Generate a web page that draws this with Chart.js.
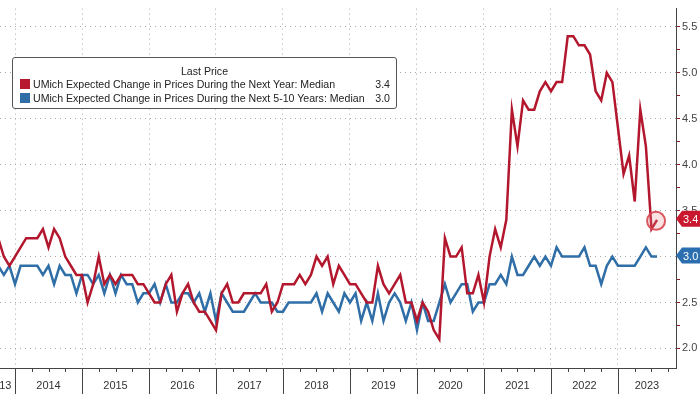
<!DOCTYPE html>
<html lang="en">
<head>
<meta charset="UTF-8">
<title>UMich inflation expectations</title>
<script src="https://cdn.jsdelivr.net/npm/chart.js@4.4.0/dist/chart.umd.min.js"></script>
<style>
  body { margin: 0; background: #fff; }
  #wrap { position: relative; width: 700px; height: 394px; overflow: hidden; }
  #legend {
    position: absolute; left: 12px; top: 57px; width: 383px; height: 50px;
    background: #fff; border: 1px solid #555; border-radius: 3px;
    font: 10.6px "Liberation Sans", Arial, sans-serif; color: #222;
  }
  #legend .title { position: absolute; left: 0; right: 0; top: 7px; text-align: center; }
  #legend .row { position: absolute; left: 0; right: 0; height: 13px; line-height: 13px; }
  #legend .sw { position: absolute; left: 7px; top: 1px; width: 10px; height: 10px; }
  #legend .name { position: absolute; left: 20px; }
  #legend .val { position: absolute; right: 6px; }
</style>
</head>
<body>
<div id="wrap">
  <canvas id="chart" width="700" height="394"></canvas>
  <div id="legend">
    <div class="title">Last Price</div>
    <div class="row" style="top:20px"><span class="sw" style="background:#b8182f"></span><span class="name">UMich Expected Change in Prices During the Next Year: Median</span><span class="val">3.4</span></div>
    <div class="row" style="top:34px"><span class="sw" style="background:#2f6ea6"></span><span class="name">UMich Expected Change in Prices During the Next 5-10 Years: Median</span><span class="val">3.0</span></div>
  </div>
</div>

<script>
  // monthly readings, first one is Sep 2013 (plotted at month end)
  const startYear = 2013;
  const startMonth = 9;

  const years = ['2013', '2014', '2015', '2016', '2017', '2018', '2019', '2020', '2021', '2022', '2023'];
  const yLabels = ['2.0', '2.5', '3.0', '3.5', '4.0', '4.5', '5.0', '5.5'];

  const nextYear = [
    3.2, 3.0, 2.9, 3.0,
    3.1, 3.2, 3.2, 3.2, 3.3, 3.1, 3.3, 3.2, 3.0, 2.9, 2.8, 2.8,
    2.5, 2.7, 3.0, 2.7, 2.8, 2.7, 2.8, 2.8, 2.8, 2.7, 2.7, 2.6,
    2.5, 2.5, 2.7, 2.8, 2.4, 2.6, 2.7, 2.5, 2.4, 2.4, 2.3, 2.2,
    2.6, 2.7, 2.5, 2.5, 2.6, 2.6, 2.6, 2.6, 2.7, 2.4, 2.5, 2.7,
    2.7, 2.7, 2.8, 2.7, 2.8, 3.0, 2.9, 3.0, 2.7, 2.9, 2.8, 2.7,
    2.7, 2.6, 2.5, 2.5, 2.9, 2.7, 2.6, 2.7, 2.8, 2.5, 2.5, 2.3,
    2.5, 2.4, 2.2, 2.1, 3.2, 3.0, 3.0, 3.1, 2.6, 2.6, 2.8, 2.5,
    3.0, 3.3, 3.1, 3.4, 4.6, 4.2, 4.7, 4.6, 4.6, 4.8, 4.9, 4.8,
    4.9, 4.9, 5.4, 5.4, 5.3, 5.3, 5.2, 4.8, 4.7, 5.0, 4.9, 4.4,
    3.9, 4.1, 3.6, 4.6, 4.2, 3.3, 3.4
  ];

  const fiveToTen = [
    2.9, 2.8, 2.9, 2.7,
    2.9, 2.9, 2.9, 2.9, 2.8, 2.9, 2.7, 2.9, 2.8, 2.8, 2.6, 2.8,
    2.8, 2.7, 2.8, 2.6, 2.8, 2.6, 2.8, 2.7, 2.7, 2.5, 2.6, 2.6,
    2.7, 2.5, 2.7, 2.5, 2.5, 2.6, 2.6, 2.5, 2.6, 2.4, 2.6, 2.3,
    2.6, 2.5, 2.4, 2.4, 2.4, 2.5, 2.6, 2.5, 2.5, 2.5, 2.4, 2.4,
    2.5, 2.5, 2.5, 2.5, 2.5, 2.6, 2.4, 2.6, 2.5, 2.4, 2.6, 2.5,
    2.6, 2.3, 2.5, 2.3, 2.6, 2.3, 2.5, 2.6, 2.5, 2.3, 2.5, 2.2,
    2.5, 2.3, 2.3, 2.5, 2.7, 2.5, 2.6, 2.7, 2.7, 2.4, 2.5, 2.5,
    2.7, 2.7, 2.8, 2.7, 3.0, 2.8, 2.8, 2.9, 3.0, 2.9, 3.0, 2.9,
    3.1, 3.0, 3.0, 3.0, 3.0, 3.1, 2.9, 2.9, 2.7, 2.9, 3.0, 2.9,
    2.9, 2.9, 2.9, 3.0, 3.1, 3.0, 3.0
  ];

  const RED = '#b3172e';
  const BLUE = '#2f6ea6';
  const GRID = '#a8a8a8';
  const FONT = '"Liberation Sans", Arial, sans-serif';

  const toPoints = arr => arr.map((v, i) => ({ x: startYear + (startMonth + i) / 12, y: v }));
  const isMajor = v => Math.abs(v * 2 - Math.round(v * 2)) < 1e-6;

  // bottom axis: year separators, quarter ticks, year labels
  const timeAxis = {
    id: 'timeAxis',
    afterDraw(chart) {
      const { ctx, chartArea: area } = chart;
      const sx = chart.scales.x;
      ctx.save();
      ctx.strokeStyle = '#444';
      ctx.lineWidth = 1;
      for (let y = +years[0]; y <= +years[years.length - 1] + 1; y++) {
        for (let q = 0; q < 4; q++) {
          const v = y + q / 4;
          if (v < sx.min || v > sx.max) continue;
          const px = Math.round(sx.getPixelForValue(v)) + 0.5;
          ctx.beginPath();
          ctx.moveTo(px, area.bottom);
          ctx.lineTo(px, q === 0 ? chart.height : area.bottom + 4);
          ctx.stroke();
        }
      }
      ctx.fillStyle = '#333';
      ctx.font = '11px ' + FONT;
      ctx.textAlign = 'center';
      ctx.textBaseline = 'middle';
      years.forEach(lbl => {
        const a = Math.max(+lbl, sx.min - 0.25);
        const b = Math.min(+lbl + 1, sx.max);
        ctx.fillText(lbl, sx.getPixelForValue((a + b) / 2), area.bottom + 18);
      });
      ctx.restore();
    }
  };

  // circle on the last reading and the value tags on the right axis
  const lastTags = {
    id: 'lastTags',
    afterDatasetsDraw(chart) {
      const { ctx } = chart;
      const pt = chart.getDatasetMeta(0).data[nextYear.length - 1];
      ctx.save();
      ctx.beginPath();
      ctx.arc(pt.x - 1, pt.y + 1, 9, 0, Math.PI * 2);
      ctx.fillStyle = 'rgba(240,140,140,0.25)';
      ctx.fill();
      ctx.strokeStyle = 'rgba(215,70,80,0.9)';
      ctx.lineWidth = 2;
      ctx.stroke();
      ctx.restore();
    },
    afterDraw(chart) {
      const { ctx, chartArea: area } = chart;
      const sy = chart.scales.y;
      const tags = [
        { v: nextYear[nextYear.length - 1], c: '#c8172f' },
        { v: fiveToTen[fiveToTen.length - 1], c: '#2c6fb0' }
      ];
      ctx.save();
      tags.forEach(t => {
        const cy = sy.getPixelForValue(t.v) - 1;
        const x0 = area.right;
        ctx.beginPath();
        ctx.moveTo(x0, cy);
        ctx.lineTo(x0 + 6, cy - 8);
        ctx.lineTo(chart.width + 4, cy - 8);
        ctx.lineTo(chart.width + 4, cy + 8);
        ctx.lineTo(x0 + 6, cy + 8);
        ctx.closePath();
        ctx.fillStyle = t.c;
        ctx.fill();
        ctx.fillStyle = '#fff';
        ctx.font = '11px ' + FONT;
        ctx.textAlign = 'left';
        ctx.textBaseline = 'middle';
        ctx.fillText(t.v.toFixed(1), x0 + 7, cy + 1);
      });
      ctx.restore();
    }
  };

  new Chart(document.getElementById('chart'), {
    type: 'line',
    data: {
      datasets: [
        { label: 'UMich Expected Change in Prices During the Next Year: Median', data: toPoints(nextYear),
          borderColor: RED, borderWidth: 2.5, pointRadius: 0, tension: 0 },
        { label: 'UMich Expected Change in Prices During the Next 5-10 Years: Median', data: toPoints(fiveToTen),
          borderColor: BLUE, borderWidth: 2.5, pointRadius: 0, tension: 0 }
      ]
    },
    options: {
      responsive: false,
      animation: false,
      devicePixelRatio: 1,
      layout: { padding: 0 },
      plugins: { legend: { display: false }, tooltip: { enabled: false } },
      scales: {
        x: {
          type: 'linear', min: 2013.776, max: 2023.866,
          afterBuildTicks: s => { s.ticks = years.slice(1).map(y => ({ value: +y })); },
          afterFit: s => { s.height = 26; },
          ticks: { display: false },
          grid: { color: GRID, drawTicks: false },
          border: { display: true, color: '#444', dash: [1, 4] }
        },
        y: {
          position: 'right', min: 1.787, max: 5.70,
          afterBuildTicks: s => {
            const t = [];
            for (let k = 0; k <= 14; k++) t.push({ value: 2 + k * 0.25 });
            s.ticks = t;
          },
          afterFit: s => { s.width = 24; },
          grid: {
            color: c => isMajor(c.tick.value) ? GRID : 'rgba(0,0,0,0)',
            tickColor: '#8c1d2e', tickLength: 4
          },
          border: { display: true, color: '#444', dash: [1, 4] },
          ticks: {
            padding: 2, color: '#444', font: { family: FONT, size: 11 },
            callback: v => isMajor(v) ? yLabels[Math.round((v - 2) * 2)] : ''
          }
        }
      }
    },
    plugins: [timeAxis, lastTags]
  });
</script>
</body>
</html>
